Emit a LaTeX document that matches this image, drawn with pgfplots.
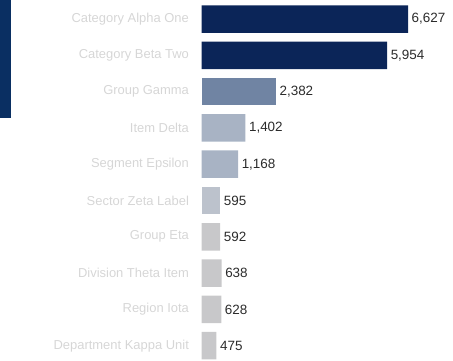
\documentclass[border=0pt]{standalone}
\usepackage{pgfplots}
\pgfplotsset{compat=1.18}
\usepackage{fontspec}
\setmainfont{Liberation Sans}
\definecolor{navy}{HTML}{0B2558}
\definecolor{midblue}{HTML}{7084A3}
\definecolor{lightblue}{HTML}{A8B3C4}
\definecolor{bluegray}{HTML}{BCC2CC}
\definecolor{lgray}{HTML}{C8C8CA}
\definecolor{slide}{HTML}{0A2F62}
\definecolor{txt}{HTML}{2B2B2B}
\definecolor{blur}{HTML}{D6D6D6}
\begin{document}
\begin{tikzpicture}
\useasboundingbox (0,-361bp) rectangle (453bp,0);
\fill[slide] (0,0) rectangle (11bp,-118bp);
\begin{axis}[
  at={(201.7bp,-0.85bp)}, anchor=north west,
  scale only axis, width=233.5bp, height=363bp,
  xmin=0, xmax=7500, ymin=0.5, ymax=10.5, y dir=reverse,
  axis line style={draw=none}, tick style={draw=none},
  xticklabels={}, 
  ytick={1,...,10},
  yticklabels={Category Alpha One, Category Beta Two, Group Gamma, Item Delta, Segment Epsilon, Sector Zeta Label, Group Eta, Division Theta Item, Region Iota, Department Kappa Unit},
  yticklabel style={font=\fontsize{13}{15}\selectfont, text=blur, xshift=-5bp},
  xbar, bar width=27.5bp, bar shift=0pt,
  nodes near coords,
  nodes near coords style={font=\fontsize{13.5}{16}\selectfont, text=txt, inner sep=1pt, xshift=2.5bp, /pgf/number format/.cd, 1000 sep={,}, assume math mode=true},
  every axis plot/.append style={draw=none},
]
\addplot[fill=navy] coordinates {(6627,1) (5954,2)};
\addplot[fill=midblue] coordinates {(2382,3)};
\addplot[fill=lightblue] coordinates {(1402,4) (1168,5)};
\addplot[fill=bluegray] coordinates {(595,6)};
\addplot[fill=lgray] coordinates {(592,7) (638,8) (628,9) (475,10)};
\end{axis}
\end{tikzpicture}
\end{document}
